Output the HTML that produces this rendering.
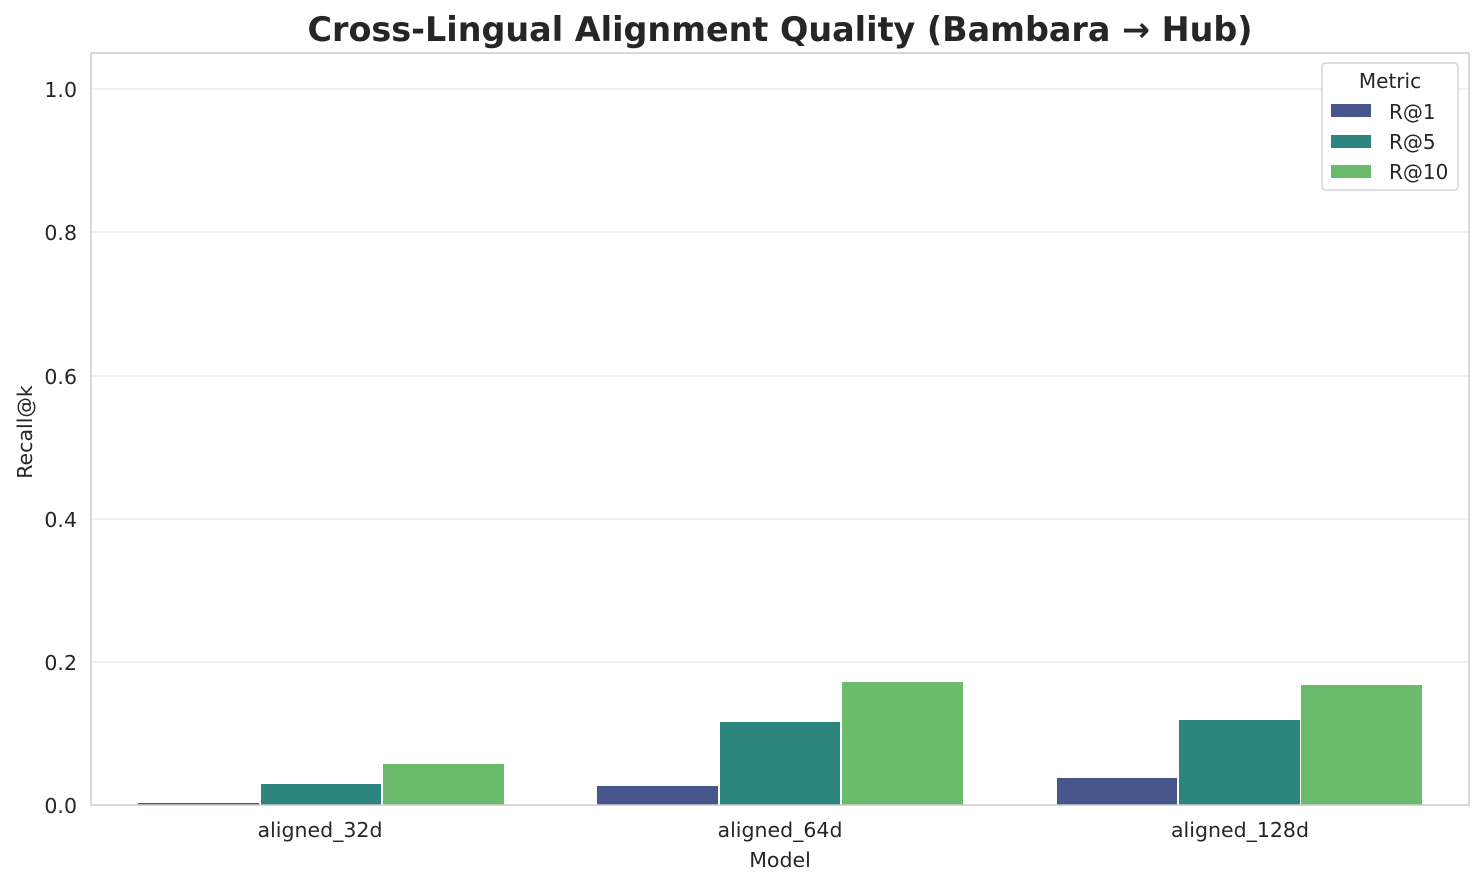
<!DOCTYPE html>
<html><head><style>body{margin:0;background:#fff}</style></head><body>
<svg width="1484" height="885" xmlns="http://www.w3.org/2000/svg" font-family="'DejaVu Sans','Liberation Sans',sans-serif">
<rect width="1484" height="885" fill="#fff"/>
<g stroke="#ebebeb" stroke-width="1.5">
<line x1="91" x2="1469" y1="662" y2="662"/>
<line x1="91" x2="1469" y1="519" y2="519"/>
<line x1="91" x2="1469" y1="376" y2="376"/>
<line x1="91" x2="1469" y1="232" y2="232"/>
<line x1="91" x2="1469" y1="89" y2="89"/>
</g>
<g>
<rect x="138" y="803" width="121" height="2" fill="#46568a"/>
<rect x="261" y="784" width="120" height="21" fill="#2e8580"/>
<rect x="383" y="764" width="121" height="41" fill="#6abb6b"/>
<rect x="597" y="786" width="121" height="19" fill="#46568a"/>
<rect x="720" y="722" width="120" height="83" fill="#2e8580"/>
<rect x="842" y="682" width="121" height="123" fill="#6abb6b"/>
<rect x="1057" y="778" width="120" height="27" fill="#46568a"/>
<rect x="1179" y="720" width="121" height="85" fill="#2e8580"/>
<rect x="1301" y="685" width="121" height="120" fill="#6abb6b"/>
</g>
<rect x="91" y="53" width="1378" height="752" fill="none" stroke="#cccccc" stroke-width="1.5"/>
<g font-size="20.5" fill="#262626" text-anchor="end">
<text x="77" y="813">0.0</text><text x="77" y="670">0.2</text><text x="77" y="527">0.4</text>
<text x="77" y="384">0.6</text><text x="77" y="240">0.8</text><text x="77" y="97">1.0</text>
</g>
<g font-size="20.5" fill="#262626" text-anchor="middle">
<text x="320" y="837">aligned_32d</text><text x="780" y="837">aligned_64d</text><text x="1240" y="837">aligned_128d</text>
<text x="780" y="867">Model</text>
<text transform="translate(32,432) rotate(-90)">Recall@k</text>
<text x="780" y="41" font-size="33.4" font-weight="bold">Cross-Lingual Alignment Quality (Bambara → Hub)</text>
</g>
<rect x="1322" y="63" width="136" height="127" rx="4" fill="#fff" stroke="#cccccc" stroke-width="1.2"/>
<text x="1390" y="88" font-size="20" fill="#262626" text-anchor="middle">Metric</text>
<rect x="1331" y="104" width="40" height="13" fill="#46568a"/>
<rect x="1331" y="135" width="40" height="13" fill="#2e8580"/>
<rect x="1331" y="165" width="40" height="13" fill="#6abb6b"/>
<g font-size="20" fill="#262626">
<text x="1389" y="119">R@1</text><text x="1389" y="149">R@5</text><text x="1389" y="179">R@10</text>
</g>
</svg>
</body></html>
